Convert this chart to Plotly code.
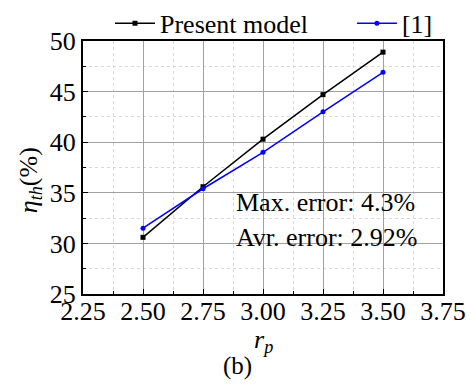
import plotly.graph_objects as go

# Pressure ratio and thermal efficiency data
rp = [2.50, 2.75, 3.00, 3.25, 3.50]
eta_present = [30.6, 35.6, 40.3, 44.7, 48.9]
eta_ref1 = [31.5, 35.4, 39.0, 43.0, 46.9]

x_ticks = [2.25, 2.50, 2.75, 3.00, 3.25, 3.50, 3.75]
y_ticks = [25, 30, 35, 40, 45, 50]

FONT = "Liberation Serif"
SIZE = 26

fig = go.Figure()
fig.add_trace(go.Scatter(
    x=rp, y=eta_present, mode="lines+markers", name="Present model",
    line=dict(color="black", width=1.5),
    marker=dict(symbol="square", size=5, color="black"),
    legend="legend",
))
fig.add_trace(go.Scatter(
    x=rp, y=eta_ref1, mode="lines+markers", name="[1]",
    line=dict(color="#0000ff", width=1.5),
    marker=dict(symbol="circle", size=5, color="#0000ff"),
    legend="legend2",
))

txt = dict(family=FONT, size=SIZE, color="black")
fig.add_annotation(x=2.88, y=34.0, xref="x", yref="y", xanchor="left", yanchor="middle",
                   text="Max. error: 4.3%", showarrow=False, font=txt)
fig.add_annotation(x=2.88, y=30.6, xref="x", yref="y", xanchor="left", yanchor="middle",
                   text="Avr. error: 2.92%", showarrow=False, font=txt)
# axis titles and panel label
fig.add_annotation(x=0.5, y=-0.185, xref="paper", yref="paper", xanchor="center", yanchor="middle",
                   text="<i>r<sub>p</sub></i>", showarrow=False, font=txt)
fig.add_annotation(x=-0.147, y=0.45, xref="paper", yref="paper", xanchor="center", yanchor="middle",
                   text="<i>η<sub>th</sub></i>(%)", textangle=-90, showarrow=False, font=txt)
fig.add_annotation(x=0.428, y=-0.283, xref="paper", yref="paper", xanchor="center", yanchor="middle",
                   text="(b)", showarrow=False, font=dict(family=FONT, size=25, color="black"))

axis_common = dict(
    showline=True, linecolor="black", linewidth=2, mirror=True,
    ticks="inside", ticklen=5, tickcolor="black", tickwidth=1,
    showgrid=True, gridcolor="#a0a0a0", gridwidth=1,
    zeroline=False,
    tickfont=txt,
)

fig.update_xaxes(
    range=[2.25, 3.75], tickvals=x_ticks, ticktext=[f"{v:.2f}" for v in x_ticks],
    minor=dict(dtick=0.125, tick0=2.25, ticks="inside", ticklen=3, tickcolor="black",
               showgrid=True, gridcolor="#d8d8d8", griddash="dot"),
    ticklabelstandoff=-7,
    **axis_common,
)
fig.update_yaxes(
    range=[25, 50], tickvals=y_ticks,
    minor=dict(dtick=2.5, tick0=25, ticks="inside", ticklen=3, tickcolor="black",
               showgrid=True, gridcolor="#d8d8d8", griddash="dot"),
    **axis_common,
)

legend_common = dict(orientation="h", yanchor="middle", xanchor="left",
                     font=txt, bgcolor="rgba(0,0,0,0)", itemwidth=40)

fig.update_layout(
    width=471, height=385,
    margin=dict(l=83, r=28, t=41, b=91, autoexpand=False),
    paper_bgcolor="white", plot_bgcolor="white",
    font=dict(family=FONT),
    showlegend=True,
    legend=dict(x=0.075, y=1.07, **legend_common),
    legend2=dict(x=0.747, y=1.07, **legend_common),
)

fig.write_html("out.html")
